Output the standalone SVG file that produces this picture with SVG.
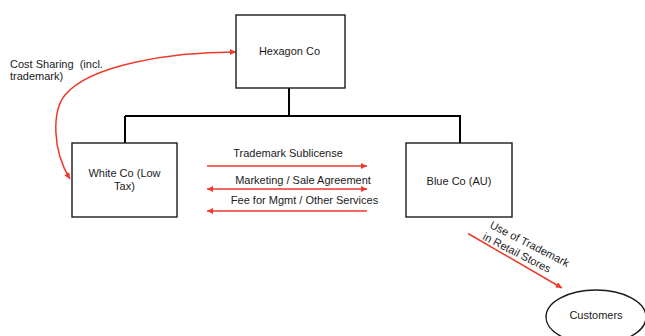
<svg xmlns="http://www.w3.org/2000/svg" width="645" height="336" viewBox="0 0 645 336">
<style>
.box{fill:#fff;stroke:#1a1a1a;stroke-width:1.4}
.t{font-family:"Liberation Sans",Arial,sans-serif;font-size:11px;fill:#1a1a1a}
.c{text-anchor:middle}
.tree{fill:none;stroke:#000;stroke-width:2}
.red{fill:none;stroke:#ee3a2b;stroke-width:1.5}
</style>
<defs>
<marker id="ah" viewBox="0 0 10 10" refX="10" refY="5" markerWidth="7" markerHeight="6" markerUnits="userSpaceOnUse" orient="auto-start-reverse">
<path d="M0,0 L10,5 L0,10 z" fill="#ee3a2b"/>
</marker>
</defs>
<rect width="645" height="336" fill="#fff"/>
<g id="connectors">
<path class="tree" d="M289 88 V116 M125 116 H461 M125 116 V143 M460 116 V143"/>
<path class="red" d="M236 52 C170 52, 90 65, 65 95 C52 111, 52 150, 70 179" marker-end="url(#ah)" marker-start="url(#ah)"/>
<line class="red" x1="207" y1="166" x2="367" y2="166" marker-end="url(#ah)"/>
<line class="red" x1="207" y1="189" x2="367" y2="189" marker-start="url(#ah)" marker-end="url(#ah)"/>
<line class="red" x1="207" y1="211" x2="367" y2="211" marker-start="url(#ah)"/>
<line class="red" x1="468" y1="233.5" x2="562" y2="288" marker-end="url(#ah)"/>
</g>
<g id="hexagon">
<rect class="box" x="236" y="15" width="109" height="73"/>
<text class="t c" x="289.5" y="55">Hexagon Co</text>
</g>
<g id="white">
<rect class="box" x="72" y="143" width="105" height="74"/>
<text class="t c" x="124.5" y="177">White Co (Low</text>
<text class="t c" x="124.5" y="190">Tax)</text>
</g>
<g id="blue">
<rect class="box" x="406" y="143" width="106" height="74"/>
<text class="t c" x="459" y="185">Blue Co (AU)</text>
</g>
<g id="customers">
<ellipse cx="596" cy="317" rx="50" ry="27" fill="#fff" stroke="#1a1a1a" stroke-width="1.4"/>
<text class="t c" x="596" y="319">Customers</text>
</g>
<g id="labels">
<text class="t" x="10" y="68" xml:space="preserve">Cost Sharing  (incl.</text>
<text class="t" x="10" y="80">trademark)</text>
<text class="t c" x="288" y="157">Trademark Sublicense</text>
<text class="t c" x="303" y="184">Marketing / Sale Agreement</text>
<text class="t c" x="304.5" y="204">Fee for Mgmt / Other Services</text>
<g transform="translate(489,227.5) rotate(27)">
<text class="t" x="0" y="0">Use of Trademark</text>
<text class="t" x="-1" y="13.5">in Retail Stores</text>
</g>
</g>
</svg>
